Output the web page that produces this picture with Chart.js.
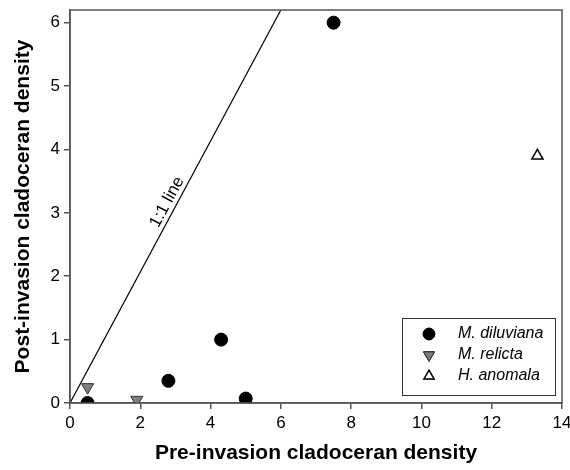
<!DOCTYPE html>
<html>
<head>
<meta charset="utf-8">
<script src="https://cdn.jsdelivr.net/npm/chart.js@4/dist/chart.umd.min.js"></script>
<style>
  html, body { margin: 0; padding: 0; background: #fff; }
  #wrap { width: 570px; height: 470px; }
</style>
</head>
<body>
<div id="wrap"><canvas id="chart_1"></canvas></div>
<script>
// data
const diluvianaX = [0.5, 2.8, 4.3, 5.0, 7.5];
const diluvianaY = [0.0, 0.35, 1.0, 0.07, 6.0];
const relictaX = [0.5, 1.9];
const relictaY = [0.25, 0.05];
const anomalaX = [13.3];
const anomalaY = [3.9];
const lineX = [0, 6];
const lineY = [0, 6.2];
const xTicks = [0, 2, 4, 6, 8, 10, 12, 14];
const yTicks = [0, 1, 2, 3, 4, 5, 6];
const seriesNames = ['M. diluviana', 'M. relicta', 'H. anomala'];

function pts(xs, ys) {
    return xs.map(function (x, i) { return { x: x, y: ys[i] }; });
}

const axisColor = '#555';
const font = 'Liberation Sans, Arial, sans-serif';

// frame, 1:1 label and boxed legend
const extras = {
    id: 'extras',
    afterDraw: function (chart) {
        const ctx = chart.ctx;
        const a = chart.chartArea;
        const xs = chart.scales.x, ys = chart.scales.y;
        ctx.save();
        ctx.strokeStyle = axisColor;
        ctx.lineWidth = 1.5;
        ctx.strokeRect(a.left, a.top, a.right - a.left, a.bottom - a.top);

        // 1:1 label
        const p0x = xs.getPixelForValue(lineX[0]), p0y = ys.getPixelForValue(lineY[0]);
        const p1x = xs.getPixelForValue(lineX[1]), p1y = ys.getPixelForValue(lineY[1]);
        const ang = Math.atan2(p1y - p0y, p1x - p0x);
        const tx = p0x + (p1x - p0x) * 0.5;
        const ty = p0y + (p1y - p0y) * 0.5;
        ctx.translate(tx, ty);
        ctx.rotate(ang);
        ctx.fillStyle = '#000';
        ctx.font = '17px ' + font;
        ctx.textAlign = 'center';
        ctx.textBaseline = 'bottom';
        ctx.fillText('1:1 line', 0, -1);
        ctx.restore();

        // legend
        ctx.save();
        const lx = 402, ly = 318, lw = 153, lh = 77;
        ctx.fillStyle = '#fff';
        ctx.fillRect(lx, ly, lw, lh);
        ctx.strokeStyle = '#333';
        ctx.lineWidth = 1;
        ctx.strokeRect(lx + 0.5, ly + 0.5, lw, lh);
        ctx.font = 'italic 16px ' + font;
        ctx.textBaseline = 'middle';
        chart.data.datasets.slice(0, 3).forEach(function (ds, i) {
            const cy = ly + 16 + i * 21;
            Chart.helpers.drawPoint(ctx, {
                pointStyle: ds.pointStyle,
                radius: ds.pointRadius * 0.9,
                rotation: ds.rotation || 0,
                borderWidth: ds.borderWidth
            }, lx + 27, cy);
            ctx.fillStyle = ds.backgroundColor;
            ctx.strokeStyle = ds.borderColor;
            ctx.lineWidth = ds.borderWidth;
            ctx.fill();
            ctx.stroke();
            ctx.fillStyle = '#000';
            ctx.fillText(seriesNames[i], lx + 56, cy);
        });
        ctx.restore();
    }
};

new Chart(document.getElementById('chart_1'), {
    type: 'scatter',
    data: {
        datasets: [
            {
                label: seriesNames[0],
                data: pts(diluvianaX, diluvianaY),
                pointStyle: 'circle',
                pointRadius: 6.5,
                backgroundColor: '#000',
                borderColor: '#000',
                borderWidth: 1
            },
            {
                label: seriesNames[1],
                data: pts(relictaX, relictaY),
                pointStyle: 'triangle',
                rotation: 180,
                pointRotation: 180,
                pointRadius: 7,
                backgroundColor: '#808080',
                borderColor: '#333',
                borderWidth: 1
            },
            {
                label: seriesNames[2],
                data: pts(anomalaX, anomalaY),
                pointStyle: 'triangle',
                pointRadius: 6.5,
                backgroundColor: '#fff',
                borderColor: '#000',
                borderWidth: 1.5
            },
            {
                label: '1:1 line',
                type: 'line',
                data: pts(lineX, lineY),
                showLine: true,
                pointRadius: 0,
                borderColor: '#000',
                borderWidth: 1.2,
                fill: false
            }
        ]
    },
    options: {
        responsive: true,
        maintainAspectRatio: false,
        animation: false,
        layout: { padding: { top: 10, right: 7, left: 0, bottom: 0 } },
        plugins: {
            legend: { display: false },
            tooltip: { enabled: false }
        },
        scales: {
            x: {
                type: 'linear',
                min: 0,
                max: 14,
                afterBuildTicks: function (s) { s.ticks = xTicks.map(function (v) { return { value: v }; }); },
                afterFit: function (s) { s.height = 67; s.paddingLeft = 0; s.paddingRight = 0; },
                grid: { drawOnChartArea: false, drawTicks: true, tickLength: 6, color: axisColor, lineWidth: 1.5 },
                border: { color: axisColor, width: 1.5 },
                ticks: { color: '#000', font: { family: font, size: 17 }, padding: 4, maxRotation: 0 },
                title: { display: true, text: 'Pre-invasion cladoceran density', color: '#000',
                         font: { family: font, size: 21, weight: 'bold' }, padding: { top: 2 } }
            },
            y: {
                type: 'linear',
                min: 0,
                max: 6.2,
                afterBuildTicks: function (s) { s.ticks = yTicks.map(function (v) { return { value: v }; }); },
                afterFit: function (s) { s.width = 70; s.paddingTop = 0; s.paddingBottom = 0; },
                grid: { drawOnChartArea: false, drawTicks: true, tickLength: 6, color: axisColor, lineWidth: 1.5 },
                border: { color: axisColor, width: 1.5 },
                ticks: { color: '#000', font: { family: font, size: 17 }, padding: 4 },
                title: { display: true, text: 'Post-invasion cladoceran density', color: '#000',
                         font: { family: font, size: 21, weight: 'bold' }, padding: { top: 11, bottom: 2 } }
            }
        }
    },
    plugins: [extras]
});
</script>
</body>
</html>
